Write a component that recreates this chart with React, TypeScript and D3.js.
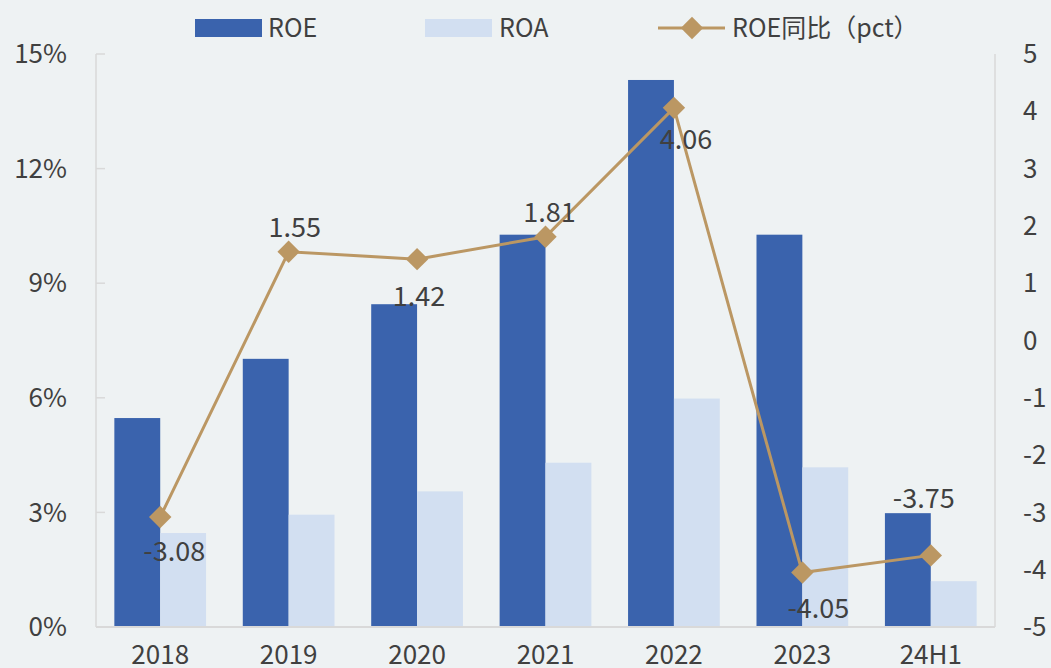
import React, { useEffect, useRef } from "react";
import * as d3 from "d3";

const categories = ["2018", "2019", "2020", "2021", "2022", "2023", "24H1"];
const roe = [5.47, 7.02, 8.45, 10.27, 14.32, 10.27, 2.98];
const roa = [2.46, 2.94, 3.55, 4.3, 5.98, 4.18, 1.2];
const roeYoY = [-3.08, 1.55, 1.42, 1.81, 4.06, -4.05, -3.75];
const leftTicks = [0, 3, 6, 9, 12, 15];
const rightTicks = [5, 4, 3, 2, 1, 0, -1, -2, -3, -4, -5];

// label placement for the line's data labels (dx, dy from the point)
const labelOffsets: [number, number][] = [
  [14, 35],
  [6, -24],
  [2, 37],
  [4, -24],
  [12, 32],
  [16, 36],
  [-7, -57],
];

const W = 1051;
const H = 668;
const FONT = "'Noto Sans CJK SC', 'Noto Sans', sans-serif";
const TEXT = "#404040";
const C_ROE = "#3a63ad";
const C_ROA = "#d2dff1";
const C_LINE = "#bb9763";

export default function App() {
  const svgRef = useRef<SVGSVGElement>(null);

  useEffect(() => {
    document.body.style.margin = "0";
    const svg = d3.select(svgRef.current);
    svg.selectAll("*").remove();

    const left = 96,
      right = 995,
      top = 54,
      bottom = 627;

    svg.append("rect").attr("width", W).attr("height", H).attr("fill", "#eef2f3");

    const x0 = d3.scaleBand().domain(categories).range([left, right]).padding(0);
    const x1 = d3
      .scaleBand()
      .domain(["ROE", "ROA"])
      .range([0, x0.bandwidth()])
      .paddingInner(0)
      .paddingOuter(0.4);
    const yL = d3.scaleLinear().domain([0, 15]).range([bottom, top]);
    const yR = d3.scaleLinear().domain([-5, 5]).range([bottom, top]);

    // axes lines
    [left, right].forEach((x) =>
      svg
        .append("line")
        .attr("x1", x)
        .attr("x2", x)
        .attr("y1", top)
        .attr("y2", bottom)
        .attr("stroke", "#d9d9d9")
        .attr("stroke-width", 1.5)
    );

    // left ticks (inside)
    svg
      .selectAll("line.ltick")
      .data(leftTicks)
      .join("line")
      .attr("x1", left)
      .attr("x2", left + 9)
      .attr("y1", (d) => yL(d))
      .attr("y2", (d) => yL(d))
      .attr("stroke", "#d9d9d9")
      .attr("stroke-width", 1.5);

    svg
      .selectAll("text.lt")
      .data(leftTicks)
      .join("text")
      .attr("x", 67)
      .attr("y", (d) => yL(d))
      .attr("dy", "0.35em")
      .attr("text-anchor", "end")
      .attr("fill", TEXT)
      .style("font-family", FONT)
      .style("font-size", "26px")
      .text((d) => d + "%");

    svg
      .selectAll("text.rt")
      .data(rightTicks)
      .join("text")
      .attr("x", 1023)
      .attr("y", (d) => yR(d))
      .attr("dy", "0.35em")
      .attr("text-anchor", "start")
      .attr("fill", TEXT)
      .style("font-family", FONT)
      .style("font-size", "26px")
      .text((d) => String(d));

    // bars
    const g = svg.append("g");
    g.selectAll("rect.roe")
      .data(roe)
      .join("rect")
      .attr("x", (d, i) => x0(categories[i])! + x1("ROE")!)
      .attr("y", (d) => yL(d))
      .attr("width", x1.bandwidth())
      .attr("height", (d) => yL(0) - yL(d))
      .attr("fill", C_ROE);
    g.selectAll("rect.roa")
      .data(roa)
      .join("rect")
      .attr("x", (d, i) => x0(categories[i])! + x1("ROA")!)
      .attr("y", (d) => yL(d))
      .attr("width", x1.bandwidth())
      .attr("height", (d) => yL(0) - yL(d))
      .attr("fill", C_ROA);

    // baseline
    svg
      .append("line")
      .attr("x1", left)
      .attr("x2", right)
      .attr("y1", bottom)
      .attr("y2", bottom)
      .attr("stroke", "#d9d9d9")
      .attr("stroke-width", 2);

    // x labels
    svg
      .selectAll("text.xl")
      .data(categories)
      .join("text")
      .attr("x", (d) => x0(d)! + x0.bandwidth() / 2)
      .attr("y", 655)
      .attr("dy", "0.35em")
      .attr("text-anchor", "middle")
      .attr("fill", TEXT)
      .style("font-family", FONT)
      .style("font-size", "26px")
      .text((d) => d);

    // line
    const px = (i: number) => x0(categories[i])! + x0.bandwidth() / 2;
    const line = d3
      .line<number>()
      .x((d, i) => px(i))
      .y((d) => yR(d));
    svg
      .append("path")
      .datum(roeYoY)
      .attr("d", line)
      .attr("fill", "none")
      .attr("stroke", C_LINE)
      .attr("stroke-width", 3);

    const diamond = d3.symbol().type(d3.symbolDiamond2).size(320);
    svg
      .selectAll("path.mk")
      .data(roeYoY)
      .join("path")
      .attr("d", diamond)
      .attr("transform", (d, i) => `translate(${px(i)},${yR(d)})`)
      .attr("fill", C_LINE);

    svg
      .selectAll("text.dl")
      .data(roeYoY)
      .join("text")
      .attr("x", (d, i) => px(i) + labelOffsets[i][0])
      .attr("y", (d, i) => yR(d) + labelOffsets[i][1])
      .attr("dy", "0.35em")
      .attr("text-anchor", "middle")
      .attr("fill", TEXT)
      .style("font-family", FONT)
      .style("font-size", "27px")
      .text((d) => d.toFixed(2));

    // legend
    const lg = svg.append("g").style("font-family", FONT).style("font-size", "25px");
    lg.append("rect").attr("x", 195).attr("y", 19).attr("width", 67).attr("height", 18).attr("fill", C_ROE);
    lg.append("text").attr("x", 268).attr("y", 28).attr("dy", "0.35em").attr("fill", TEXT).text("ROE");
    lg.append("rect").attr("x", 425).attr("y", 19).attr("width", 67).attr("height", 18).attr("fill", C_ROA);
    lg.append("text").attr("x", 499).attr("y", 28).attr("dy", "0.35em").attr("fill", TEXT).text("ROA");
    lg.append("line")
      .attr("x1", 658)
      .attr("x2", 725)
      .attr("y1", 28)
      .attr("y2", 28)
      .attr("stroke", C_LINE)
      .attr("stroke-width", 3);
    lg.append("path")
      .attr("d", diamond)
      .attr("transform", "translate(692,28)")
      .attr("fill", C_LINE);
    lg.append("text").attr("x", 732).attr("y", 28).attr("dy", "0.35em").attr("fill", TEXT).text("ROE同比（pct）");
  }, []);

  return (
    <svg
      ref={svgRef}
      width={W}
      height={H}
      style={{ position: "absolute", left: 0, top: 0, display: "block" }}
    />
  );
}
